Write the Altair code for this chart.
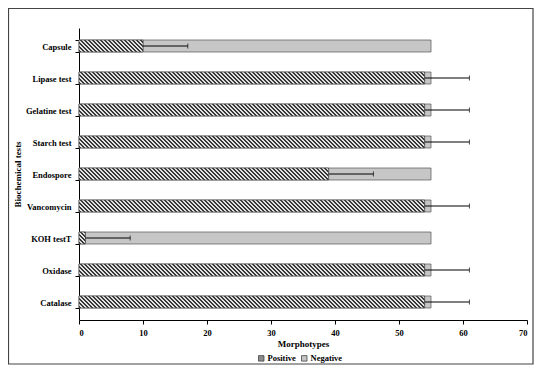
import altair as alt
import pandas as pd

tests = ["Capsule", "Lipase test", "Gelatine test", "Starch test", "Endospore",
         "Vancomycin", "KOH testT", "Oxidase", "Catalase"]
positive = [10, 54, 54, 54, 39, 54, 1, 54, 54]
negative = [45, 1, 1, 1, 16, 1, 54, 1, 1]
error = [7, 7, 7, 7, 7, 7, 7, 7, 7]

x_ticks = [0, 10, 20, 30, 40, 50, 60, 70]

rows = []
for t, p, n in zip(tests, positive, negative):
    rows.append({"test": t, "group": "Positive", "value": p, "ord": 0})
    rows.append({"test": t, "group": "Negative", "value": n, "ord": 1})
df = pd.DataFrame(rows)
pos_df = pd.DataFrame({"test": tests, "value": positive})

err_df = pd.DataFrame({"test": tests, "lo": positive,
                       "hi": [p + e for p, e in zip(positive, error)]})

FONT = "Liberation Serif"
W, H = 448, 292
XMAX = 70
BAR_H = 12
CHUNK = 5          # positive bars are filled with hatch in pieces of this many units
PERIOD = 4.0       # hatch period in px (divides CHUNK units = 32 px)

# split each positive bar into pieces so that each hatch gradient has few stripes
chunks = []
for t, p in zip(tests, positive):
    s = 0
    while s < p:
        w = min(CHUNK, p - s)
        chunks.append({"test": t, "x0": s, "x1": s + w, "w": w})
        s += w
chunk_df = pd.DataFrame(chunks)


def hatch(width_px, period=PERIOD, dark_frac=0.5, shift=0.125,
          dark="#383838", light="#e2e2e2"):
    """Diagonal '\\' hatch as a striped linear gradient in bbox units.
    t(x, y) = (x + h - y) / (w + h)."""
    r = BAR_H / width_px
    lam = (1 + r) / (1 + r * r)
    dt = period / (width_px + BAR_H)
    stops = [{"offset": 0, "color": light}]
    k = 0
    while (k + shift) * dt < 1:
        a = min(1.0, (k + shift) * dt)
        b = min(1.0, (k + shift + dark_frac) * dt)
        stops += [{"offset": a, "color": light}, {"offset": a, "color": dark},
                  {"offset": b, "color": dark}, {"offset": b, "color": light}]
        k += 1
    return {"gradient": "linear", "x1": 0, "y1": 1, "x2": lam, "y2": 1 - lam * r,
            "stops": stops}


ysort = alt.Y("test:N", sort=tests)
yenc = alt.Y("test:N", sort=tests,
             axis=alt.Axis(title="Biochemical tests", tickBand="extent",
                           labelPadding=4, titleX=-57, tickSize=4),
             scale=alt.Scale(paddingInner=0.625, paddingOuter=0.3, round=True))
xscale = alt.Scale(domain=[0, XMAX])

bars = alt.Chart(df).mark_bar(size=BAR_H, stroke="#555555", strokeWidth=0.7).encode(
    x=alt.X("value:Q", stack="zero", scale=xscale,
            axis=alt.Axis(title="Morphotypes", values=x_ticks, tickSize=4,
                          labelPadding=4, titlePadding=3)),
    y=yenc,
    color=alt.Color("group:N",
                    scale=alt.Scale(domain=["Positive", "Negative"],
                                    range=["#8c8c8c", "#c6c6c6"]),
                    legend=alt.Legend(title=None, orient="none", direction="horizontal",
                                      legendX=W / 2 - 46, legendY=H + 34,
                                      symbolType="square", symbolSize=30,
                                      symbolStrokeColor="#444444", symbolStrokeWidth=0.8,
                                      labelFont=FONT, labelFontWeight="bold",
                                      labelFontSize=8.5, labelColor="black",
                                      labelOffset=2, columnPadding=3)),
    order=alt.Order("ord:Q"),
)

hatch_layers = []
for w in sorted(chunk_df["w"].unique()):
    sub = chunk_df[chunk_df["w"] == w]
    hatch_layers.append(
        alt.Chart(sub).mark_bar(size=BAR_H, fill=hatch(w / XMAX * W)).encode(
            x=alt.X("x0:Q", scale=xscale), x2="x1:Q", y=ysort)
    )

outline = alt.Chart(pos_df).mark_bar(size=BAR_H, fill="white", fillOpacity=0,
                                     stroke="#555555", strokeWidth=0.7).encode(
    x=alt.X("value:Q", stack=None, scale=xscale), y=ysort)

rules = alt.Chart(err_df).mark_rule(color="black", strokeWidth=1).encode(
    x="lo:Q", x2="hi:Q", y=ysort)

caps = alt.Chart(err_df).mark_tick(color="black", thickness=1, size=5).encode(
    x="hi:Q", y=ysort)

border = alt.Chart(pd.DataFrame({"a": [0]})).mark_rect(
    fill=None, stroke="#444444", strokeWidth=1.2, clip=False).encode(
    x=alt.value(-70.5), x2=alt.value(W + 6), y=alt.value(-19.5), y2=alt.value(H + 44))

chart = alt.layer(bars, *hatch_layers, outline, rules, caps, border).properties(
    width=W, height=H,
    background="white",
    autosize=alt.AutoSizeParams(type="none"),
    padding={"left": 71, "top": 20, "right": 7, "bottom": 45},
).configure_view(stroke=None).configure_axis(
    labelFont=FONT, labelFontWeight="bold", labelFontSize=8.5, labelColor="black",
    titleFont=FONT, titleFontWeight="bold", titleFontSize=9, titleColor="black",
    domainColor="black", tickColor="black", grid=False,
)

chart.save("out.html", embed_options={"renderer": "svg", "actions": False})
